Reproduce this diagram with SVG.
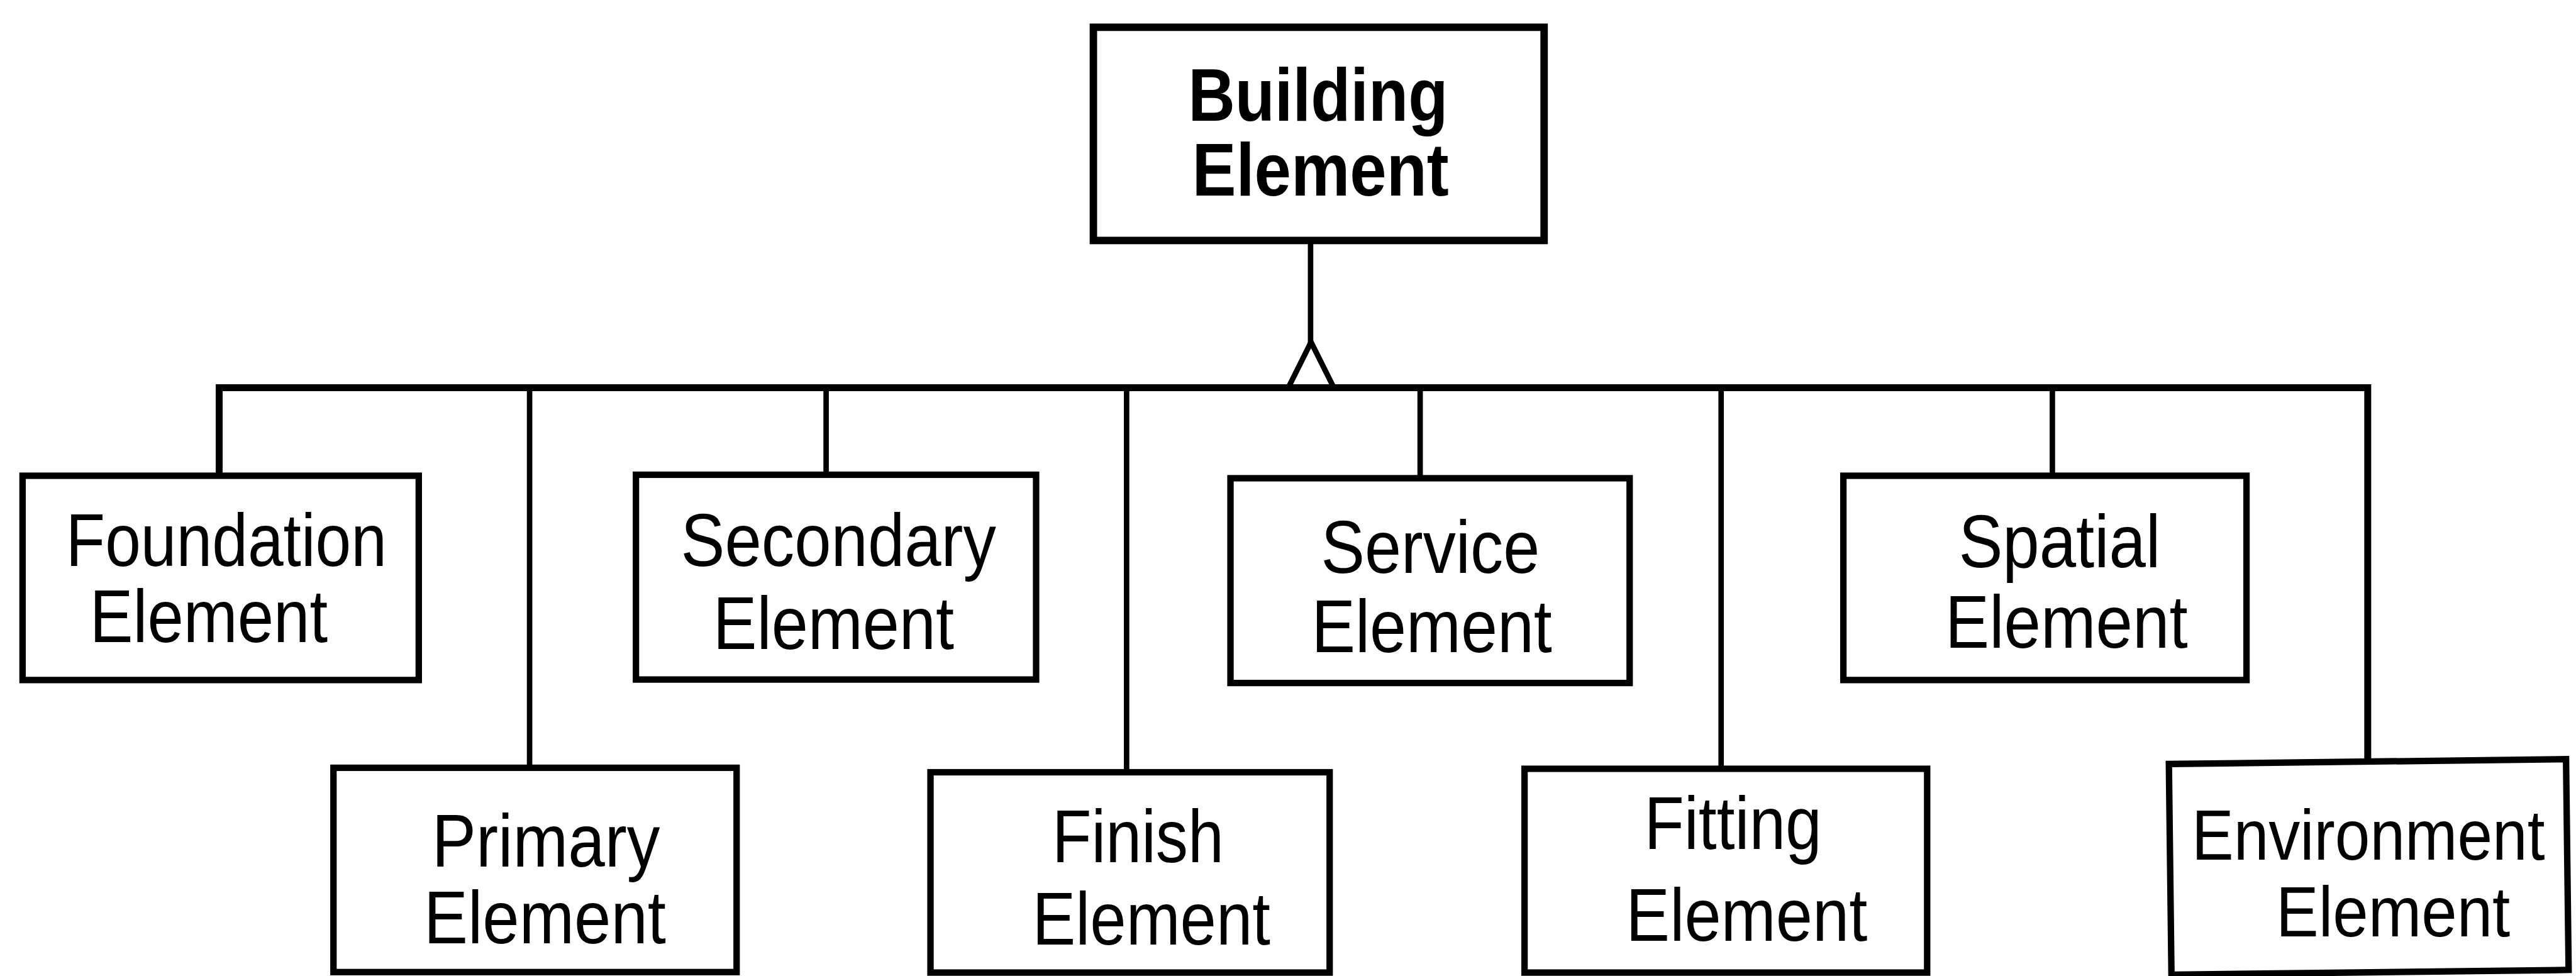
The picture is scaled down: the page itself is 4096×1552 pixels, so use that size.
<svg xmlns="http://www.w3.org/2000/svg" width="4096" height="1552" viewBox="0 0 4096 1552">
  <style>
    .box { fill: #ffffff; stroke: #000000; stroke-width: 13; stroke-linejoin: miter; }
    .root { stroke-width: 15; }
    .wire { fill: none; stroke: #000000; stroke-width: 11; stroke-linecap: square; }
    .bus { stroke-width: 14; }
    .lbl { font-family: "Liberation Sans", Arial, Helvetica, sans-serif; font-size: 150px; fill: #000000; }
    .bold { font-weight: bold; }
    .tight { font-size: 144px; }
  </style>
  <rect x="0" y="0" width="4096" height="1552" fill="#ffffff"/>
  <!-- drawing laid out in 5195-unit space, scaled to the page -->
  <g transform="scale(0.78845)">
    <g id="connectors">
      <!-- stem from the parent entity down to the generalisation triangle -->
      <line class="wire" x1="2643" y1="492" x2="2643" y2="688"/>
      <polygon class="wire" points="2644,690 2598,782 2690,782" stroke-linejoin="miter"/>
      <!-- horizontal bus -->
      <polyline class="wire bus" points="442,953 442,782 4775,782 4775,1526"/>
      <!-- drops to each subtype -->
      <line class="wire" x1="1068" y1="782" x2="1068" y2="1542"/>
      <line class="wire" x1="1666" y1="782" x2="1666" y2="951"/>
      <line class="wire" x1="2272" y1="782" x2="2272" y2="1551"/>
      <line class="wire" x1="2864" y1="782" x2="2864" y2="958"/>
      <line class="wire" x1="3471" y1="782" x2="3471" y2="1544"/>
      <line class="wire" x1="4139" y1="782" x2="4139" y2="953"/>
    </g>

    <g id="building-element">
      <rect class="box root" x="2205" y="55" width="909" height="430"/>
      <text class="lbl bold" x="2396" y="244" textLength="524" lengthAdjust="spacingAndGlyphs">Building</text>
      <text class="lbl bold" x="2404" y="395" textLength="518" lengthAdjust="spacingAndGlyphs">Element</text>
    </g>

    <g id="foundation-element">
      <rect class="box" x="45.5" y="959.5" width="799" height="412"/>
      <text class="lbl" x="133" y="1142" textLength="647" lengthAdjust="spacingAndGlyphs">Foundation</text>
      <text class="lbl" x="181" y="1295" textLength="480" lengthAdjust="spacingAndGlyphs">Element</text>
    </g>

    <g id="primary-element">
      <rect class="box" x="672.5" y="1548.5" width="813" height="412"/>
      <text class="lbl" x="871" y="1748" textLength="460" lengthAdjust="spacingAndGlyphs">Primary</text>
      <text class="lbl" x="855" y="1903" textLength="488" lengthAdjust="spacingAndGlyphs">Element</text>
    </g>

    <g id="secondary-element">
      <rect class="box" x="1282.5" y="957.5" width="807" height="413"/>
      <text class="lbl" x="1373" y="1142" textLength="636" lengthAdjust="spacingAndGlyphs">Secondary</text>
      <text class="lbl" x="1438" y="1309" textLength="486" lengthAdjust="spacingAndGlyphs">Element</text>
    </g>

    <g id="finish-element">
      <rect class="box" x="1876.5" y="1557.5" width="805" height="404"/>
      <text class="lbl" x="2122" y="1739" textLength="346" lengthAdjust="spacingAndGlyphs">Finish</text>
      <text class="lbl" x="2082" y="1905" textLength="480" lengthAdjust="spacingAndGlyphs">Element</text>
    </g>

    <g id="service-element">
      <rect class="box" x="2481.5" y="964.5" width="805" height="413"/>
      <text class="lbl" x="2664" y="1155" textLength="441" lengthAdjust="spacingAndGlyphs">Service</text>
      <text class="lbl" x="2645" y="1315" textLength="485" lengthAdjust="spacingAndGlyphs">Element</text>
    </g>

    <g id="fitting-element">
      <rect class="box" x="3074.5" y="1550.5" width="812" height="411"/>
      <text class="lbl" x="3316" y="1712" textLength="358" lengthAdjust="spacingAndGlyphs">Fitting</text>
      <text class="lbl" x="3279" y="1898" textLength="487" lengthAdjust="spacingAndGlyphs">Element</text>
    </g>

    <g id="spatial-element">
      <rect class="box" x="3717.5" y="959.5" width="813" height="412"/>
      <text class="lbl" x="3950" y="1144" textLength="407" lengthAdjust="spacingAndGlyphs">Spatial</text>
      <text class="lbl" x="3923" y="1306" textLength="489" lengthAdjust="spacingAndGlyphs">Element</text>
    </g>

    <g id="environment-element">
      <rect class="box" x="4376.5" y="1536" width="801" height="425" transform="rotate(-0.7 4777 1745)"/>
      <text class="lbl tight" transform="translate(4420 1734) scale(0.881 1)" x="0" y="0">Environment</text>
      <text class="lbl tight" transform="translate(4590 1888) scale(0.894 1)" x="0" y="0">Element</text>
    </g>
  </g>
</svg>
